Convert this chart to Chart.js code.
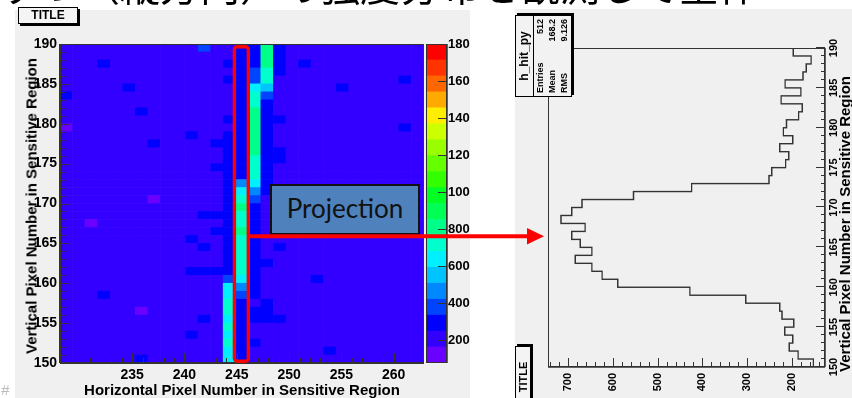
<!DOCTYPE html>
<html lang="ja">
<head>
  <meta charset="UTF-8">
  <title>h_hit projection</title>
  <script src="https://cdn.jsdelivr.net/npm/chart.js"></script>
  <style>
    html, body { margin: 0; padding: 0; background: #fff; }
    body { width: 852px; height: 398px; position: relative; overflow: hidden; font-family: 'Liberation Sans', Arial, sans-serif; }
    .abs { position: absolute; }
    #heading { left: 0; top: -36px; font-family: 'Noto Sans CJK JP', sans-serif; font-size: 40px; line-height: 40px; white-space: nowrap; color: #000; z-index: 20; }
    #leftPanel { left: 15px; top: 10px; width: 455px; height: 388px; background: #f0f0f0; }
    #heatChart { left: 15px; top: 0; }
    #zChart { left: 426px; top: 0; }
    .titleBox { background: #f4f4f4; border: 1px solid #000; box-shadow: 2px 2px 0 #000; font-weight: bold; font-size: 12px; text-align: center; line-height: 15px; box-sizing: border-box; }
    #title1 { left: 18px; top: 7px; width: 60px; height: 17px; }
    .axTitle { font-weight: bold; font-size: 15px; white-space: nowrap; color: #000; }
    #yTitle { left: 31px; top: 206px; transform: translate(-50%, -50%) rotate(-90deg); }
    #xTitle { left: 242px; top: 389px; transform: translate(-50%, -50%); }
    #pageNo { left: 1px; top: 381px; color: #bbb; font-size: 15px; font-style: italic; }
    #projBox { left: 270px; top: 184px; width: 150px; height: 51px; box-sizing: border-box; background: #4f81bd; border: 2px solid #111; font-family: Lato, 'Open Sans', sans-serif; font-size: 26px; color: #111; text-align: center; line-height: 45px; z-index: 6; }
    #overlay { left: 0; top: 0; z-index: 10; pointer-events: none; }
    #rightWrap { left: 0; top: 0; width: 389px; height: 337px; transform-origin: 0 0; transform: translate(515px, 398px) rotate(-90deg); background: #f0f0f0; overflow: hidden; }
    #stats { left: 301px; top: 0; width: 82px; height: 57px; box-sizing: border-box; background: #f2f2f2; border: 1px solid #000; box-shadow: 2px 2px 0 #000; font-weight: bold; }
    #stats .st-title { height: 17px; line-height: 17px; font-size: 12px; text-align: center; border-bottom: 1px solid #000; }
    #stats .st-row { display: flex; justify-content: space-between; height: 12px; line-height: 12px; font-size: 9px; padding: 0 3px; }
    #title2 { left: -10px; top: 0; width: 62px; height: 16px; font-size: 11px; line-height: 14px; }
    #pyTitle { left: 0; top: 322px; width: 322px; text-align: right; font-weight: bold; font-size: 15px; line-height: 15px; white-space: nowrap; }
  </style>
</head>
<body>
  <div id="heading" class="abs">ずつ（縦方向）の強度分布を観測して全体</div>

  <!-- left: 2D hit map -->
  <div id="leftPanel" class="abs"></div>
  <canvas id="heatChart" class="abs" width="455" height="398"></canvas>
  <canvas id="zChart" class="abs" width="44" height="398"></canvas>
  <div id="title1" class="abs titleBox">TITLE</div>
  <div id="yTitle" class="abs axTitle">Vertical Pixel Number in Sensitive Region</div>
  <div id="xTitle" class="abs axTitle">Horizontal Pixel Number in Sensitive Region</div>
  <div id="pageNo" class="abs">#</div>
  <div id="projBox" class="abs">Projection</div>

  <!-- right: projection, drawn upright then turned -->
  <div id="rightWrap" class="abs">
    <canvas id="projChart" class="abs" width="389" height="337" style="left:0;top:0"></canvas>
    <div id="stats" class="abs">
      <div class="st-title">h_hit_py</div>
      <div class="st-row"><span>Entries</span><span>512</span></div>
      <div class="st-row"><span>Mean</span><span>168.2</span></div>
      <div class="st-row"><span>RMS</span><span>9.126</span></div>
    </div>
    <div id="title2" class="abs titleBox">TITLE</div>
    <div id="pyTitle" class="abs">Vertical Pixel Number in Sensitive Region</div>
  </div>

  <svg id="overlay" class="abs" width="852" height="398">
    <rect x="234.4" y="46.7" width="13.9" height="314.6" rx="3" ry="3" fill="none" stroke="#ff0000" stroke-width="3.4"/>
    <line x1="248" y1="236.3" x2="529" y2="236.3" stroke="#ff0000" stroke-width="4"/>
    <polygon points="527,228 544,236.3 527,244.6" fill="#ff0000"/>
  </svg>

  <script>
    // bins of the hit map
    const xBins = [231, 232, 233, 234, 235, 236, 237, 238, 239, 240, 241, 242, 243, 244, 245,
                   246, 247, 248, 249, 250, 251, 252, 253, 254, 255, 256, 257, 258, 259];
    const yBins = [150, 151, 152, 153, 154, 155, 156, 157, 158, 159,
                   160, 161, 162, 163, 164, 165, 166, 167, 168, 169,
                   170, 171, 172, 173, 174, 175, 176, 177, 178, 179,
                   180, 181, 182, 183, 184, 185, 186, 187, 188, 189];
    const xTicks = [235, 240, 245, 250, 255, 260];
    const yTicks = [150, 155, 160, 165, 170, 175, 180, 185, 190];

    // counts, rows 150 -> 189
    const zBackground = 200;
    const col244 = [630, 630, 720, 630, 720, 630, 720, 720, 630, 630,
                    370, 290, 290, 290, 290, 290, 290, 290, 290, 290,
                    290, 290, 290, 290, 290, 290, 290, 290, 290, 200,
                    290, 200, 200, 200, 200, 290, 200, 290, 200, 200];
    const col245 = [290, 290, 290, 290, 290, 290, 290, 290, 370, 460,
                    630, 720, 720, 720, 720, 720, 800, 720, 720, 800,
                    720, 630, 460, 290, 290, 290, 290, 290, 290, 290,
                    290, 290, 290, 290, 290, 290, 290, 290, 290, 290];
    const col246 = [200, 200, 290, 200, 200, 290, 290, 200, 290, 290,
                    290, 290, 290, 290, 290, 290, 290, 290, 290, 290,
                    370, 460, 630, 720, 720, 720, 800, 800, 800, 800,
                    800, 800, 720, 720, 630, 370, 370, 290, 290, 290];
    const col247 = [200, 200, 200, 200, 200, 290, 290, 290, 200, 200,
                    200, 200, 290, 200, 200, 200, 200, 200, 200, 200,
                    200, 290, 290, 290, 290, 290, 290, 290, 290, 290,
                    290, 290, 290, 370, 550, 720, 720, 800, 800, 800];
    // scattered cells [column, row, count]
    const zSpots = [
      [242, 189, 370], [234, 187, 290], [236, 184, 290], [231, 183, 290], [237, 181, 290],
      [231, 179, 120], [241, 178, 290], [238, 177, 290], [243, 177, 290], [243, 174, 290],
      [238, 170, 120], [242, 168, 290], [243, 168, 290], [233, 167, 120], [243, 166, 290],
      [241, 165, 290], [242, 164, 290], [241, 161, 290], [242, 161, 290], [243, 161, 290],
      [234, 158, 290], [237, 156, 120], [242, 155, 290], [241, 153, 290], [237, 150, 290],
      [248, 189, 290], [248, 188, 290], [248, 187, 290], [248, 186, 290], [250, 187, 290],
      [253, 184, 290], [258, 185, 290], [258, 179, 290], [248, 180, 290], [248, 176, 290],
      [248, 175, 290], [248, 164, 290], [251, 160, 290], [248, 155, 290], [252, 151, 290]
    ];

    // colour scale
    const zMin = 76, zMax = 1800;
    const zTicks = [200, 400, 600, 800, 1000, 1200, 1400, 1600, 1800];
    const palette = ['#6a00ff', '#3300ff', '#0000ff', '#0044ff', '#0088ff', '#00c4ff', '#00f0ff',
                     '#00ffcc', '#00ff88', '#00ff55', '#00ff22', '#33ff00', '#66ff00', '#99ff00',
                     '#ccff00', '#ffee00', '#ffaa00', '#ff6600', '#ff3300', '#ff0000'];

    // h_hit_py, bins 150 -> 189
    const projCounts = [152, 186, 206, 198, 216, 196, 222, 227, 303, 428,
                        589, 624, 647, 684, 647, 673, 692, 662, 716, 692,
                        669, 554, 424, 251, 245, 214, 207, 227, 198, 219,
                        212, 185, 177, 224, 180, 215, 175, 168, 157, 197];
    const projCountTicks = [200, 300, 400, 500, 600, 700];
    const projMin = 126, projMax = 745;

    Chart.defaults.font.family = "'Liberation Sans', Arial, sans-serif";
    Chart.defaults.color = '#000';

    const trackCols = { 244: col244, 245: col245, 246: col246, 247: col247 };
    function cellValue(col, row) {
      if (trackCols[col]) return trackCols[col][row - 150];
      const s = zSpots.find(p => p[0] === col && p[1] === row);
      return s ? s[2] : zBackground;
    }
    const bandWidth = (zMax - zMin) / palette.length;
    function colourFor(z) {
      let k = Math.floor((z - zMin) / bandWidth);
      return palette[Math.max(0, Math.min(palette.length - 1, k))];
    }
    const plainLabel = v => String(v);

    // ROOT style frame with ticks pointing inward
    const rootFrame = {
      id: 'rootFrame',
      afterDatasetsDraw(chart, args, opts) {
        const ctx = chart.ctx, a = chart.chartArea;
        ctx.save();
        ctx.strokeStyle = opts.color;
        ctx.lineWidth = 1;
        ctx.strokeRect(Math.round(a.left) + 0.5, Math.round(a.top) + 0.5,
                       Math.round(a.right - a.left) - 1, Math.round(a.bottom - a.top) - 1);
        opts.ticks.forEach(t => {
          const s = chart.scales[t.axis];
          for (let k = 0; ; k++) {
            const v = t.from + k * t.minor;
            if (v > t.to + 1e-6) break;
            const isMajor = Math.abs(v / t.major - Math.round(v / t.major)) < 1e-6;
            const len = isMajor ? t.majorLen : t.minorLen;
            const p = Math.round(s.getPixelForValue(v)) + 0.5;
            ctx.beginPath();
            if (t.side === 'bottom') { ctx.moveTo(p, a.bottom); ctx.lineTo(p, a.bottom - len); }
            else if (t.side === 'left') { ctx.moveTo(a.left, p); ctx.lineTo(a.left + len, p); }
            else { ctx.moveTo(a.right, p); ctx.lineTo(a.right - len, p); }
            ctx.stroke();
          }
        });
        ctx.lineWidth = opts.axisWidth;
        (opts.axisLines || []).forEach(side => {
          ctx.beginPath();
          if (side === 'bottom') { ctx.moveTo(a.left, a.bottom); ctx.lineTo(a.right, a.bottom); }
          else if (side === 'left') { ctx.moveTo(a.left, a.top); ctx.lineTo(a.left, a.bottom); }
          else { ctx.moveTo(a.right, a.top); ctx.lineTo(a.right, a.bottom); }
          ctx.stroke();
        });
        ctx.restore();
      }
    };

    const noGrid = { display: false, drawTicks: false };

    // hit map: one dataset of floating bars per row
    const heatDatasets = yBins.map(row => ({
      data: xBins.map(() => [row, row + 1]),
      backgroundColor: xBins.map(col => colourFor(cellValue(col, row))),
      borderWidth: 0,
      grouped: false,
      barPercentage: 1,
      categoryPercentage: 1,
      xAxisID: 'xc',
      yAxisID: 'y'
    }));

    new Chart(document.getElementById('heatChart'), {
      type: 'bar',
      data: { labels: xBins.map(String), datasets: heatDatasets },
      options: {
        responsive: false,
        animation: false,
        layout: { padding: { top: 44, right: 46, left: 0, bottom: 0 } },
        plugins: {
          legend: { display: false },
          tooltip: { enabled: false },
          rootFrame: {
            color: '#333', axisWidth: 2, axisLines: ['left', 'bottom'],
            ticks: [
              { axis: 'x', side: 'bottom', from: 231, to: 260, minor: 1, major: 5, majorLen: 10, minorLen: 5 },
              { axis: 'y', side: 'left', from: 150, to: 190, minor: 1, major: 5, majorLen: 10, minorLen: 5 }
            ]
          }
        },
        scales: {
          xc: { type: 'category', display: false, offset: true },
          x: {
            type: 'linear', position: 'bottom', min: 231, max: 260,
            grid: noGrid, border: { display: false },
            afterBuildTicks: s => { s.ticks = xTicks.map(v => ({ value: v })); },
            afterFit: s => { s.height = 35; },
            ticks: { font: { size: 14, weight: 'bold' }, padding: 4, maxRotation: 0, autoSkip: false, callback: plainLabel }
          },
          y: {
            type: 'linear', min: 150, max: 190,
            grid: noGrid, border: { display: false },
            afterBuildTicks: s => { s.ticks = yTicks.map(v => ({ value: v })); },
            afterFit: s => { s.width = 45; },
            ticks: { font: { size: 14, weight: 'bold' }, padding: 3, autoSkip: false, callback: plainLabel }
          }
        }
      },
      plugins: [rootFrame]
    });

    // colour bar
    new Chart(document.getElementById('zChart'), {
      type: 'bar',
      data: {
        labels: ['z'],
        datasets: palette.map((c, k) => ({
          data: [[zMin + k * bandWidth, zMin + (k + 1) * bandWidth]],
          backgroundColor: c,
          borderWidth: 0,
          grouped: false,
          barPercentage: 1,
          categoryPercentage: 1
        }))
      },
      options: {
        responsive: false,
        animation: false,
        layout: { padding: { top: 44, bottom: 35, left: 0, right: 0 } },
        plugins: {
          legend: { display: false },
          tooltip: { enabled: false },
          rootFrame: {
            color: '#333', axisWidth: 1.5, axisLines: ['right'],
            ticks: [{ axis: 'y', side: 'right', from: 200, to: 1800, minor: 200, major: 200, majorLen: 9, minorLen: 9 }]
          }
        },
        scales: {
          x: { display: false },
          y: {
            position: 'right', min: zMin, max: zMax,
            grid: noGrid, border: { display: false },
            afterBuildTicks: s => { s.ticks = zTicks.map(v => ({ value: v })); },
            afterFit: s => { s.width = 23; },
            ticks: { font: { size: 13, weight: 'bold' }, padding: 1, autoSkip: false, callback: plainLabel }
          }
        }
      },
      plugins: [rootFrame]
    });

    // projection histogram (upright; the wrapper turns it)
    const projPoints = yBins.map((b, k) => ({ x: b, y: projCounts[k] }));
    projPoints.push({ x: 190, y: projCounts[projCounts.length - 1] });

    new Chart(document.getElementById('projChart'), {
      type: 'line',
      data: {
        datasets: [{
          data: projPoints,
          stepped: true,
          borderColor: '#333',
          borderWidth: 1.4,
          pointRadius: 0,
          fill: false
        }]
      },
      options: {
        responsive: false,
        animation: false,
        layout: { padding: { top: 33, right: 39, left: 0, bottom: 0 } },
        plugins: {
          legend: { display: false },
          tooltip: { enabled: false },
          rootFrame: {
            color: '#333', axisWidth: 1.5, axisLines: ['left', 'bottom'],
            ticks: [
              { axis: 'x', side: 'bottom', from: 150, to: 190, minor: 1, major: 5, majorLen: 9, minorLen: 4 },
              { axis: 'y', side: 'left', from: 140, to: 740, minor: 20, major: 100, majorLen: 9, minorLen: 5 }
            ]
          }
        },
        scales: {
          x: {
            type: 'linear', min: 150, max: 190,
            grid: noGrid, border: { display: false },
            afterBuildTicks: s => { s.ticks = yTicks.map(v => ({ value: v })); },
            afterFit: s => { s.height = 27; },
            ticks: { font: { size: 11, weight: 'bold' }, padding: 2, maxRotation: 0, autoSkip: false, callback: plainLabel }
          },
          y: {
            type: 'linear', min: projMin, max: projMax,
            grid: noGrid, border: { display: false },
            afterBuildTicks: s => { s.ticks = projCountTicks.map(v => ({ value: v })); },
            afterFit: s => { s.width = 31; },
            ticks: { font: { size: 11, weight: 'bold' }, padding: 6, autoSkip: false, callback: plainLabel }
          }
        }
      },
      plugins: [rootFrame]
    });
  </script>
</body>
</html>
